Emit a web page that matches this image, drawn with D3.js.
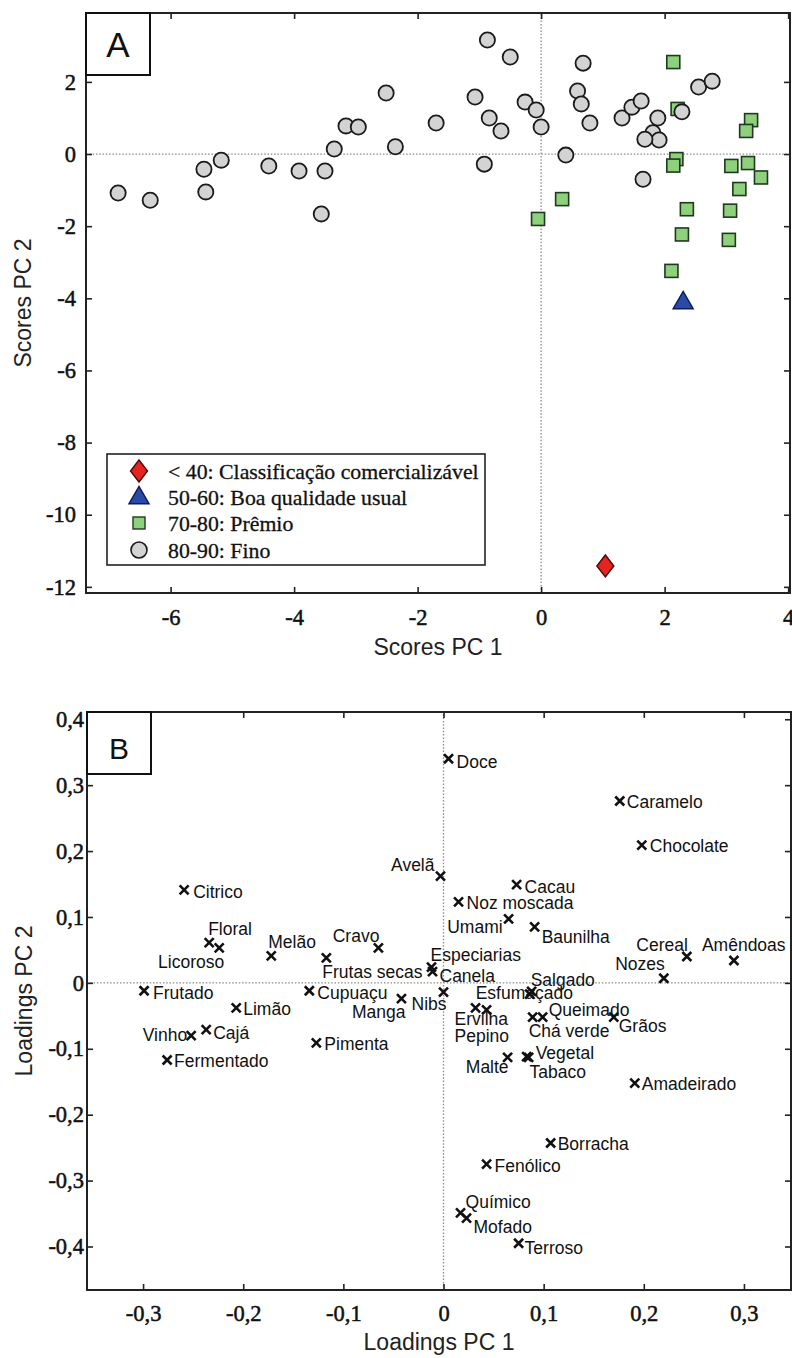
<!DOCTYPE html>
<html>
<head>
<meta charset="utf-8">
<script src="https://cdn.jsdelivr.net/npm/d3@7"></script>
<style>
  body { margin: 0; background: #fff; }
  svg { display: block; }
</style>
</head>
<body>
<svg width="792" height="1358"></svg>
<script>
// ---------- Panel A: PCA scores ----------
let finoPC1 = [-6.85, -6.33, -5.46, -5.43, -5.18, -4.41, -3.92, -3.50, -3.56, -3.35, -3.16, -2.96, -2.51, -2.36,
  -1.70, -0.87, -0.50, -1.07, -0.84, -0.65, -0.92, -0.26, -0.08, 0.00, 0.40, 0.68, 0.59, 0.65, 0.79,
  1.31, 1.47, 1.62, 1.89, 1.81, 1.91, 1.68, 1.65, 2.28, 2.55, 2.77];
let finoPC2 = [-1.08, -1.28, -0.42, -1.05, -0.17, -0.33, -0.47, -0.47, -1.66, 0.14, 0.78, 0.75, 1.69, 0.20,
  0.86, 3.16, 2.69, 1.58, 1.00, 0.64, -0.28, 1.44, 1.22, 0.75, -0.03, 2.52, 1.75, 1.39, 0.86,
  1.00, 1.30, 1.47, 1.00, 0.59, 0.39, 0.41, -0.70, 1.17, 1.86, 2.02];

let premioPC1 = [2.14, 2.21, 3.40, 3.32, 2.19, 2.14, 3.08, 3.35, 3.56, 3.21, 0.34, -0.05, 2.36, 3.06, 2.28, 3.04, 2.11];
let premioPC2 = [2.55, 1.25, 0.94, 0.64, -0.14, -0.32, -0.33, -0.25, -0.65, -0.97, -1.25, -1.80, -1.53, -1.57, -2.23, -2.38, -3.24];

let boaPC1 = [2.30];
let boaPC2 = [-4.13];

let comercialPC1 = [1.04];
let comercialPC2 = [-11.42];

let legendLabels = [
  "< 40: Classificação comercializável",
  "50-60: Boa qualidade usual",
  "70-80: Prêmio",
  "80-90: Fino"
];

let scoreTicksX = [-6, -4, -2, 0, 2, 4];
let scoreTicksY = [2, 0, -2, -4, -6, -8, -10, -12];

// ---------- Panel B: PCA loadings ----------
let attributes = ["Doce", "Caramelo", "Chocolate", "Citrico", "Avelã", "Cacau", "Noz moscada", "Umami",
  "Baunilha", "Floral", "Licoroso", "Melão", "Cravo", "Frutas secas", "Especiarias", "Canela",
  "Cereal", "Amêndoas", "Nozes", "Salgado", "Esfumaçado", "Frutado", "Cupuaçu", "Manga", "Nibs",
  "Ervilha", "Pepino", "Queimado", "Chá verde", "Grãos", "Limão", "Vinho", "Cajá", "Pimenta",
  "Fermentado", "Malte", "Vegetal", "Tabaco", "Amadeirado", "Borracha", "Fenólico", "Químico",
  "Mofado", "Terroso"];
let loadPC1 = [0.005, 0.176, 0.198, -0.259, -0.003, 0.073, 0.015, 0.065,
  0.091, -0.234, -0.224, -0.172, -0.065, -0.117, -0.012, -0.011,
  0.243, 0.290, 0.220, 0.088, 0.086, -0.299, -0.134, -0.042, 0.000,
  0.032, 0.043, 0.099, 0.089, 0.170, -0.207, -0.252, -0.237, -0.127,
  -0.276, 0.064, 0.085, 0.083, 0.191, 0.107, 0.043, 0.017,
  0.023, 0.075];
let loadPC2 = [0.340, 0.276, 0.209, 0.141, 0.162, 0.149, 0.123, 0.097,
  0.085, 0.061, 0.053, 0.041, 0.053, 0.038, 0.024, 0.017,
  0.040, 0.034, 0.007, -0.013, -0.017, -0.012, -0.012, -0.024, -0.014,
  -0.038, -0.041, -0.052, -0.052, -0.052, -0.038, -0.080, -0.071, -0.091,
  -0.117, -0.113, -0.113, -0.112, -0.152, -0.243, -0.275, -0.349,
  -0.357, -0.395];

let loadTicksX = [-0.3, -0.2, -0.1, 0, 0.1, 0.2, 0.3];
let loadTicksY = [0.4, 0.3, 0.2, 0.1, 0, -0.1, -0.2, -0.3, -0.4];

// label placement next to each cross: [dx, dy, anchor] in px
let labelPlace = {
  "Doce": [8, 3, "start"], "Caramelo": [7, 1, "start"], "Chocolate": [8, 1, "start"],
  "Citrico": [9, 2, "start"], "Avelã": [-6, -11, "end"], "Cacau": [8, 2, "start"],
  "Noz moscada": [8, 1, "start"], "Umami": [-6, 8, "end"], "Baunilha": [7, 10, "start"],
  "Floral": [-1, -14, "start"], "Licoroso": [5, 14, "end"], "Melão": [-3, -14, "start"],
  "Cravo": [1, -12, "end"], "Frutas secas": [-4, 14, "start"], "Especiarias": [-1, -12, "start"],
  "Canela": [7, 4, "start"], "Cereal": [1, -12, "end"], "Amêndoas": [-32, -16, "start"],
  "Nozes": [1, -14, "end"], "Salgado": [-1, -12, "start"], "Esfumaçado": [-54, -1, "start"],
  "Frutado": [9, 2, "start"], "Cupuaçu": [8, 2, "start"], "Manga": [4, 13, "end"],
  "Nibs": [3, 12, "end"], "Ervilha": [-21, 11, "start"], "Pepino": [-32, 26, "start"],
  "Queimado": [6, -7, "start"], "Chá verde": [-4, 14, "start"], "Grãos": [5, 9, "start"],
  "Limão": [7, 1, "start"], "Vinho": [-4, -1, "end"], "Cajá": [7, 3, "start"],
  "Pimenta": [8, 1, "start"], "Fermentado": [7, 1, "start"], "Malte": [1, 10, "end"],
  "Vegetal": [7, -4, "start"], "Tabaco": [3, 15, "start"], "Amadeirado": [7, 1, "start"],
  "Borracha": [7, 1, "start"], "Fenólico": [8, 2, "start"], "Químico": [5, -11, "start"],
  "Mofado": [7, 9, "start"], "Terroso": [6, 5, "start"]
};

let serif = "'Liberation Serif', 'Times New Roman', serif";
let sans = "'Liberation Sans', Arial, sans-serif";

let svg = d3.select("svg");

var commaFormat = function(d) { return String(d).replace(".", ","); };

// draws the boxed frame, inward ticks on all 4 sides, dotted zero lines
var drawFrame = function(x, y, ticksX, ticksY, fmt, padX, padY) {
  let g = svg.append("g");
  let x0 = x.range()[0], x1 = x.range()[1];
  let y0 = y.range()[0], y1 = y.range()[1];

  // zero reference lines
  g.append("line")
    .attr("x1", x0).attr("x2", x1).attr("y1", y(0)).attr("y2", y(0))
    .attr("stroke", "#8a8a8a").attr("stroke-width", 1.3).attr("stroke-dasharray", "1.5 1.8");
  g.append("line")
    .attr("x1", x(0)).attr("x2", x(0)).attr("y1", y0).attr("y2", y1)
    .attr("stroke", "#8a8a8a").attr("stroke-width", 1.3).attr("stroke-dasharray", "1.5 1.8");

  let axes = [
    [d3.axisBottom(x).tickValues(ticksX).tickSize(-6).tickPadding(padX).tickFormat(fmt), "translate(0," + y0 + ")"],
    [d3.axisTop(x).tickValues(ticksX).tickSize(-6).tickFormat(""), "translate(0," + y1 + ")"],
    [d3.axisLeft(y).tickValues(ticksY).tickSize(-6).tickPadding(padY).tickFormat(fmt), "translate(" + x0 + ",0)"],
    [d3.axisRight(y).tickValues(ticksY).tickSize(-6).tickFormat(""), "translate(" + x1 + ",0)"]
  ];
  axes.forEach(function(a) {
    let ag = g.append("g").attr("transform", a[1]).call(a[0]);
    ag.select(".domain").remove();
    ag.selectAll("line").attr("stroke", "#222").attr("stroke-width", 1.6);
    ag.selectAll("text")
      .attr("font-family", serif)
      .attr("font-size", 22.5)
      .attr("fill", "#111")
      .attr("stroke", "#111").attr("stroke-width", 0.5);
  });

  g.append("rect")
    .attr("x", x0).attr("y", y1)
    .attr("width", x1 - x0).attr("height", y0 - y1)
    .attr("fill", "none").attr("stroke", "#222").attr("stroke-width", 2);
  return g;
};

var panelTag = function(x0, y0, letter, size, cx, base) {
  svg.append("rect")
    .attr("x", x0).attr("y", y0).attr("width", 64).attr("height", 62)
    .attr("fill", "#fff").attr("stroke", "#111").attr("stroke-width", 2);
  svg.append("text")
    .attr("x", cx).attr("y", base)
    .attr("text-anchor", "middle")
    .attr("font-family", sans).attr("font-size", size)
    .attr("fill", "#111")
    .text(letter);
};

// ===== Panel A =====
let xA = d3.scaleLinear().domain([-7.37, 4.03]).range([86, 790]);
let yA = d3.scaleLinear().domain([-12.17, 3.91]).range([593, 13]);

drawFrame(xA, yA, scoreTicksX, scoreTicksY, function(d) { return String(d); }, 16, 10);

let diamondPath = "M0,-11L8.5,0L0,11L-8.5,0Z";
let trianglePath = d3.symbol().type(d3.symbolTriangle).size(175)();

let premioData = premioPC1.map(function(v, i) { return [v, premioPC2[i]]; });
let finoData = finoPC1.map(function(v, i) { return [v, finoPC2[i]]; });

svg.append("g").selectAll("rect")
  .data(premioData).enter().append("rect")
  .attr("x", function(d) { return xA(d[0]) - 6.5; })
  .attr("y", function(d) { return yA(d[1]) - 6.5; })
  .attr("width", 13).attr("height", 13)
  .attr("fill", "#8fd07c").attr("stroke", "#1e3a1e").attr("stroke-width", 1.6);

svg.append("g").selectAll("circle")
  .data(finoData).enter().append("circle")
  .attr("cx", function(d) { return xA(d[0]); })
  .attr("cy", function(d) { return yA(d[1]); })
  .attr("r", 7.6)
  .attr("fill", "#d3d3d3").attr("stroke", "#1a1a1a").attr("stroke-width", 1.8);

svg.append("g").selectAll("path")
  .data(boaPC1.map(function(v, i) { return [v, boaPC2[i]]; })).enter().append("path")
  .attr("d", trianglePath)
  .attr("transform", function(d) { return "translate(" + xA(d[0]) + "," + yA(d[1]) + ")"; })
  .attr("fill", "#2a4aa8").attr("stroke", "#0d1d55").attr("stroke-width", 1.4);

svg.append("g").selectAll("path")
  .data(comercialPC1.map(function(v, i) { return [v, comercialPC2[i]]; })).enter().append("path")
  .attr("d", diamondPath)
  .attr("transform", function(d) { return "translate(" + xA(d[0]) + "," + yA(d[1]) + ")"; })
  .attr("fill", "#e52421").attr("stroke", "#4a0a0a").attr("stroke-width", 1.4);

// legend
let legend = svg.append("g");
legend.append("rect")
  .attr("x", 107).attr("y", 454).attr("width", 378).attr("height", 111)
  .attr("fill", "#fff").attr("stroke", "#222").attr("stroke-width", 1.6);
let legendY = [471, 497, 523, 550];
legend.append("path").attr("d", diamondPath)
  .attr("transform", "translate(139," + legendY[0] + ")")
  .attr("fill", "#e52421").attr("stroke", "#4a0a0a").attr("stroke-width", 1.4);
legend.append("path").attr("d", trianglePath)
  .attr("transform", "translate(139," + (legendY[1] + 1) + ")")
  .attr("fill", "#2a4aa8").attr("stroke", "#0d1d55").attr("stroke-width", 1.4);
legend.append("rect")
  .attr("x", 133).attr("y", legendY[2] - 6).attr("width", 12).attr("height", 12)
  .attr("fill", "#8fd07c").attr("stroke", "#1e3a1e").attr("stroke-width", 1.4);
legend.append("circle")
  .attr("cx", 139).attr("cy", legendY[3]).attr("r", 8)
  .attr("fill", "#d3d3d3").attr("stroke", "#1a1a1a").attr("stroke-width", 1.6);
legend.selectAll("text.leg")
  .data(legendLabels).enter().append("text")
  .attr("class", "leg")
  .attr("x", 168)
  .attr("y", function(d, i) { return legendY[i]; })
  .attr("dy", "0.35em")
  .attr("font-family", serif).attr("font-size", 21.8).attr("fill", "#111")
  .attr("stroke", "#111").attr("stroke-width", 0.3)
  .text(function(d) { return d; });

panelTag(86, 13, "A", 35, 118, 57);

svg.append("text")
  .attr("x", 438).attr("y", 655)
  .attr("text-anchor", "middle")
  .attr("font-family", sans).attr("font-size", 23).attr("fill", "#222")
  .text("Scores PC 1");
svg.append("text")
  .attr("transform", "translate(31,303) rotate(-90)")
  .attr("text-anchor", "middle")
  .attr("font-family", sans).attr("font-size", 23).attr("fill", "#222")
  .text("Scores PC 2");

// ===== Panel B =====
let xB = d3.scaleLinear().domain([-0.356, 0.347]).range([87, 791]);
let yB = d3.scaleLinear().domain([-0.466, 0.411]).range([1290, 712]);

drawFrame(xB, yB, loadTicksX, loadTicksY, commaFormat, 15, 3);

let loadData = attributes.map(function(a, i) { return { name: a, x: loadPC1[i], y: loadPC2[i] }; });

let pts = svg.append("g").selectAll("g")
  .data(loadData).enter().append("g")
  .attr("transform", function(d) { return "translate(" + xB(d.x) + "," + yB(d.y) + ")"; });

pts.append("path")
  .attr("d", "M-4.5,-4.5L4.5,4.5M-4.5,4.5L4.5,-4.5")
  .attr("stroke", "#111").attr("stroke-width", 2.6).attr("fill", "none");

pts.append("text")
  .attr("x", function(d) { return labelPlace[d.name][0]; })
  .attr("y", function(d) { return labelPlace[d.name][1]; })
  .attr("dy", "0.35em")
  .attr("text-anchor", function(d) { return labelPlace[d.name][2]; })
  .attr("font-family", sans).attr("font-size", 17.5).attr("fill", "#111")
  .text(function(d) { return d.name; });

panelTag(87, 712, "B", 30, 119, 759);

svg.append("text")
  .attr("x", 439).attr("y", 1350)
  .attr("text-anchor", "middle")
  .attr("font-family", sans).attr("font-size", 23).attr("fill", "#222")
  .text("Loadings PC 1");
svg.append("text")
  .attr("transform", "translate(32,1001) rotate(-90)")
  .attr("text-anchor", "middle")
  .attr("font-family", sans).attr("font-size", 23).attr("fill", "#222")
  .text("Loadings PC 2");
</script>
</body>
</html>
